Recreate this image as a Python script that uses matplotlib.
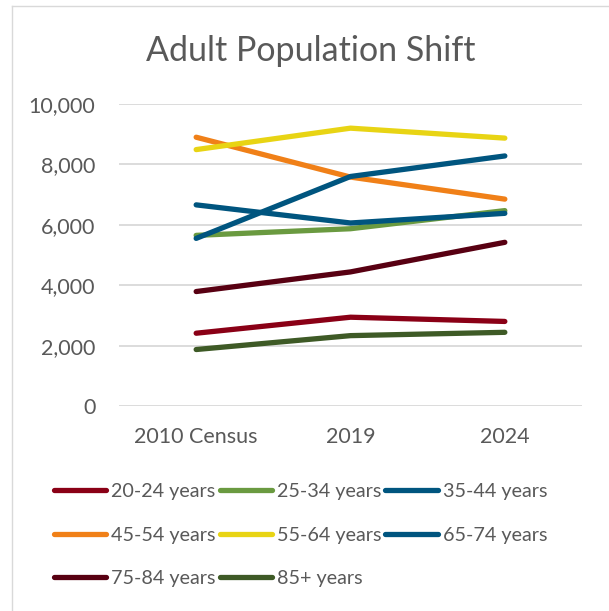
import matplotlib
matplotlib.use("Agg")
import matplotlib.pyplot as plt
from matplotlib.lines import Line2D

# Adult population by age group
periods = ["2010 Census", "2019", "2024"]
groups = ["20-24 years", "25-34 years", "35-44 years", "45-54 years",
          "55-64 years", "65-74 years", "75-84 years", "85+ years"]
values = {
    "20-24 years": [2410, 2940, 2800],
    "25-34 years": [5650, 5870, 6470],
    "35-44 years": [6660, 6060, 6380],
    "45-54 years": [8900, 7580, 6850],
    "55-64 years": [8490, 9200, 8870],
    "65-74 years": [5550, 7600, 8280],
    "75-84 years": [3790, 4440, 5420],
    "85+ years": [1870, 2330, 2440],
}
colors = ["#8a0016", "#6a9a40", "#00557f", "#f08018",
          "#e8d414", "#00557f", "#580012", "#3e5a26"]

plt.rcParams['font.family'] = ['Lato', 'DejaVu Sans']
text_color = "#595959"

fig = plt.figure(figsize=(6.09, 6.11), dpi=100)
W, H = 609, 611
ax = fig.add_axes([119 / W, 1 - 406 / H, (582 - 119) / W, (406 - 104) / H])

x = range(len(periods))
for g, c in zip(groups, colors):
    ax.plot(x, values[g], color=c, lw=3.8, solid_capstyle="round", label=g)

ax.set_xlim(-0.5, 2.5)
ax.set_ylim(0, 10000)
ax.set_yticks(range(0, 10001, 2000))
ax.yaxis.set_major_formatter(matplotlib.ticker.FuncFormatter(lambda v, p: f"{int(v):,}"))
ax.set_xticks(list(x))
ax.set_xticklabels(periods)
ax.grid(axis="y", color="#d9d9d9", lw=1.3)
ax.set_axisbelow(True)
for s in ax.spines.values():
    s.set_visible(False)
ax.tick_params(length=0, labelsize=15.5, colors=text_color)
ax.tick_params(axis="x", pad=15)
ax.tick_params(axis="y", pad=17)

fig.text(311 / W, 1 - 51 / H, "Adult Population Shift", ha="center", va="center",
         fontsize=24.5, color=text_color)

# legend, filled row by row (three per row)
handles = [Line2D([0], [0], color=c, lw=3.8, solid_capstyle="round") for c in colors]
order = [0, 3, 6, 1, 4, 7, 2, 5]
fig.legend([handles[i] for i in order], [groups[i] for i in order], loc="upper left",
           bbox_to_anchor=(36 / W, 1 - 465 / H), ncol=3, frameon=False, fontsize=14.2,
           handlelength=2.65, handletextpad=0.26, columnspacing=0.2, labelspacing=1.36,
           labelcolor=text_color)

# chart border (left and top)
fig.add_artist(Line2D([11.5 / W, 11.5 / W], [0, 1 - 5.5 / H], color="#d9d9d9", lw=1))
fig.add_artist(Line2D([11.5 / W, 1], [1 - 5.5 / H, 1 - 5.5 / H], color="#d9d9d9", lw=1))

fig.savefig("out.png", dpi=100, facecolor="white")
